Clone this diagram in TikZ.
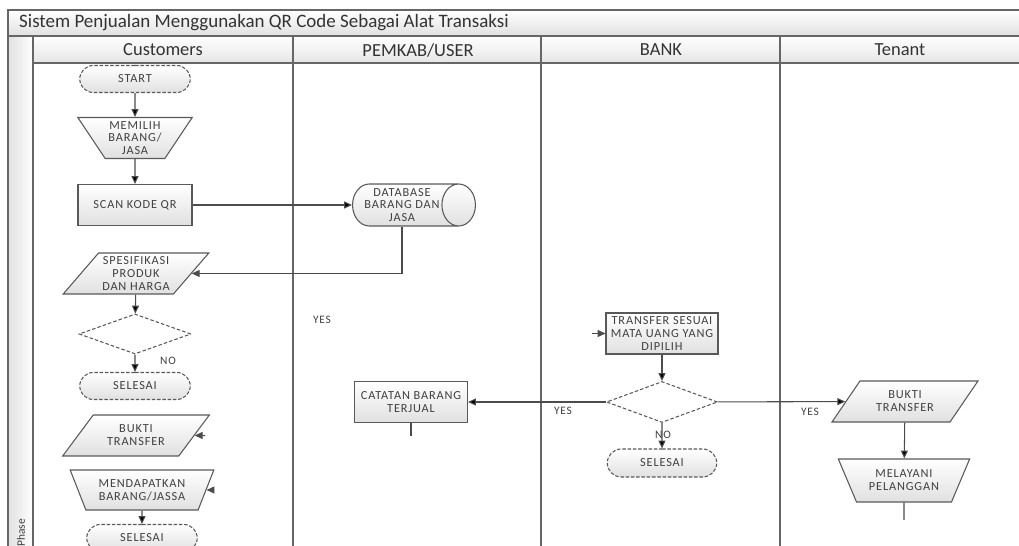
\documentclass[tikz,border=0pt]{standalone}
\usepackage{fontspec}
\setmainfont{Carlito}
\newfontfamily\boxfont[LetterSpace=7]{Carlito}
\usepackage{tikz}
\usetikzlibrary{shapes.geometric,shapes.misc,arrows.meta,positioning}

\begin{document}
\begin{tikzpicture}[x=0.02cm,y=-0.02cm,
                    lane/.style={draw=black!60,line width=0.9pt},
                    box/.style={draw=black!65,line width=0.6pt,top color=white,bottom color=black!12,text=black!75,
                                align=center,inner sep=1pt,font=\boxfont\fontsize{7}{7.3}\selectfont},
                    procbox/.style={box,rectangle,minimum width=2.26cm,minimum height=0.82cm},
                    termbox/.style={box,rounded rectangle,dash pattern=on 2pt off 1pt,minimum width=2.28cm,minimum height=0.54cm},
                    iobox/.style={box,trapezium,trapezium left angle=48,trapezium right angle=132,trapezium stretches=true,
                                  minimum width=2.92cm,minimum height=0.82cm},
                    manbox/.style={box,trapezium,shape border rotate=180,trapezium angle=#1,trapezium stretches=true,
                                   minimum height=0.82cm},
                    decbox/.style={diamond,draw=black!65,line width=0.6pt,fill=white,dash pattern=on 2pt off 1.2pt,
                                   minimum width=2.24cm,minimum height=0.8cm,inner sep=0pt},
                    dbbox/.style={box,cylinder,shape aspect=0.9,minimum width=0.84cm,minimum height=2.44cm},
                    flow/.style={draw=black!70,line width=0.6pt,-{Triangle[length=4.5pt,width=4pt]}},
                    tag/.style={text=black!75,font=\boxfont\fontsize{6.5}{7}\selectfont},
                    head/.style={text=black!80,font=\fontsize{10.5}{12}\selectfont}]

 \useasboundingbox (0,0) rectangle (1019,546);

 \shade[top color=white,bottom color=black!12] (8,10) rectangle (1019,36);
 \shade[top color=white,bottom color=black!10] (33,36) rectangle (1019,63);
 \shade[left color=black!12,right color=white] (8,36) rectangle (33,546);

 \draw[lane] (8,546) -- (8,10) -- (1019,10);
 \draw[lane] (8,36) -- (1019,36);
 \draw[lane] (33,63) -- (1019,63);
 \foreach \x in {33,293,541,780}
   \draw[lane] (\x,36) -- (\x,546);

 \node[head,anchor=west,font=\fontsize{10.8}{13}\selectfont] (title) at (13,23) {Sistem Penjualan Menggunakan QR Code Sebagai Alat Transaksi};
 \node[head] (lane1) at (163,50) {Customers};
 \node[head] (lane2) at (418,50) {PEMKAB/USER};
 \node[head] (lane3) at (661,50) {BANK};
 \node[head] (lane4) at (900,50) {Tenant};
 \node[rotate=90,text=black!75,font=\fontsize{6.5}{7}\selectfont] (phase) at (21,533) {Phase};

 \node[termbox] (start) at (135,79) {START};

 \node[manbox=55,minimum width=2.3cm] (memilih) at (135,138) {MEMILIH\\BARANG/\\JASA};

 \node[procbox,minimum width=2.28cm] (scan) at (135,205) {SCAN KODE QR};

 \node[dbbox] (database) at (402,205) {DATABASE\\BARANG DAN\\JASA};

 \node[iobox] (spek) at (136,273.5) {SPESIFIKASI\\PRODUK\\DAN HARGA};

 \node[decbox] (cek1) at (135,334) {};

 \node[termbox] (selesai1) at (135,386) {SELESAI};

 \node[iobox,minimum width=2.94cm] (bukti1) at (136,435.5) {BUKTI\\TRANSFER};

 \node[manbox=63,minimum width=2.88cm,minimum height=0.8cm] (mendapat) at (142,490) {MENDAPATKAN\\BARANG/JASSA};

 \node[termbox] (selesai2) at (142,538) {SELESAI};

 \node[procbox] (catatan) at (411,402) {CATATAN BARANG\\TERJUAL};

 \node[procbox,minimum width=2.24cm] (transfer) at (662,333.5) {TRANSFER SESUAI\\MATA UANG YANG\\DIPILIH};

 \node[decbox,minimum width=2.22cm,minimum height=0.82cm] (cek2) at (662,402) {};

 \node[termbox,minimum width=2.26cm,minimum height=0.56cm] (selesai3) at (662,463) {SELESAI};

 \node[iobox,trapezium left angle=52,trapezium right angle=128] (bukti2) at (905,401.5) {BUKTI\\TRANSFER};

 \node[manbox=60,minimum width=2.64cm,minimum height=0.86cm] (melayani) at (904,480.5) {MELAYANI\\PELANGGAN};

 \node[tag] (yes1) at (322,320) {YES};
 \node[tag] (no1) at (168,361) {NO};
 \node[tag] (yes2) at (563,411) {YES};
 \node[tag] (no2) at (663,435) {NO};
 \node[tag] (yes3) at (810,412) {YES};

 \coordinate (tip1) at (205,435.5);
 \coordinate (tip2) at (214,490);
 \coordinate (tip3) at (592,333.5);
 \coordinate (end1) at (411,436);
 \coordinate (end2) at (904,520);

  \path[flow]
    (start) edge (memilih)
    (memilih) edge (scan)
    (scan) edge (database)
    (spek) edge (cek1)
    (cek1) edge (selesai1)
    (mendapat) edge (selesai2)
    (transfer) edge (cek2)
    (cek2) edge (catatan)
    (cek2) edge (bukti2)
    (cek2) edge (selesai3)
    (bukti2) edge (melayani);

  \draw[flow] (tip1) -- (bukti1);
  \draw[flow] (tip2) -- (mendapat);
  \draw[flow] (tip3) -- (transfer.west);
  \draw[flow] (database) |- (spek);
  \draw[draw=black!70,line width=0.6pt] (catatan) -- (end1);
  \draw[draw=black!70,line width=0.6pt] (melayani) -- (end2);

\end{tikzpicture}
\end{document}
